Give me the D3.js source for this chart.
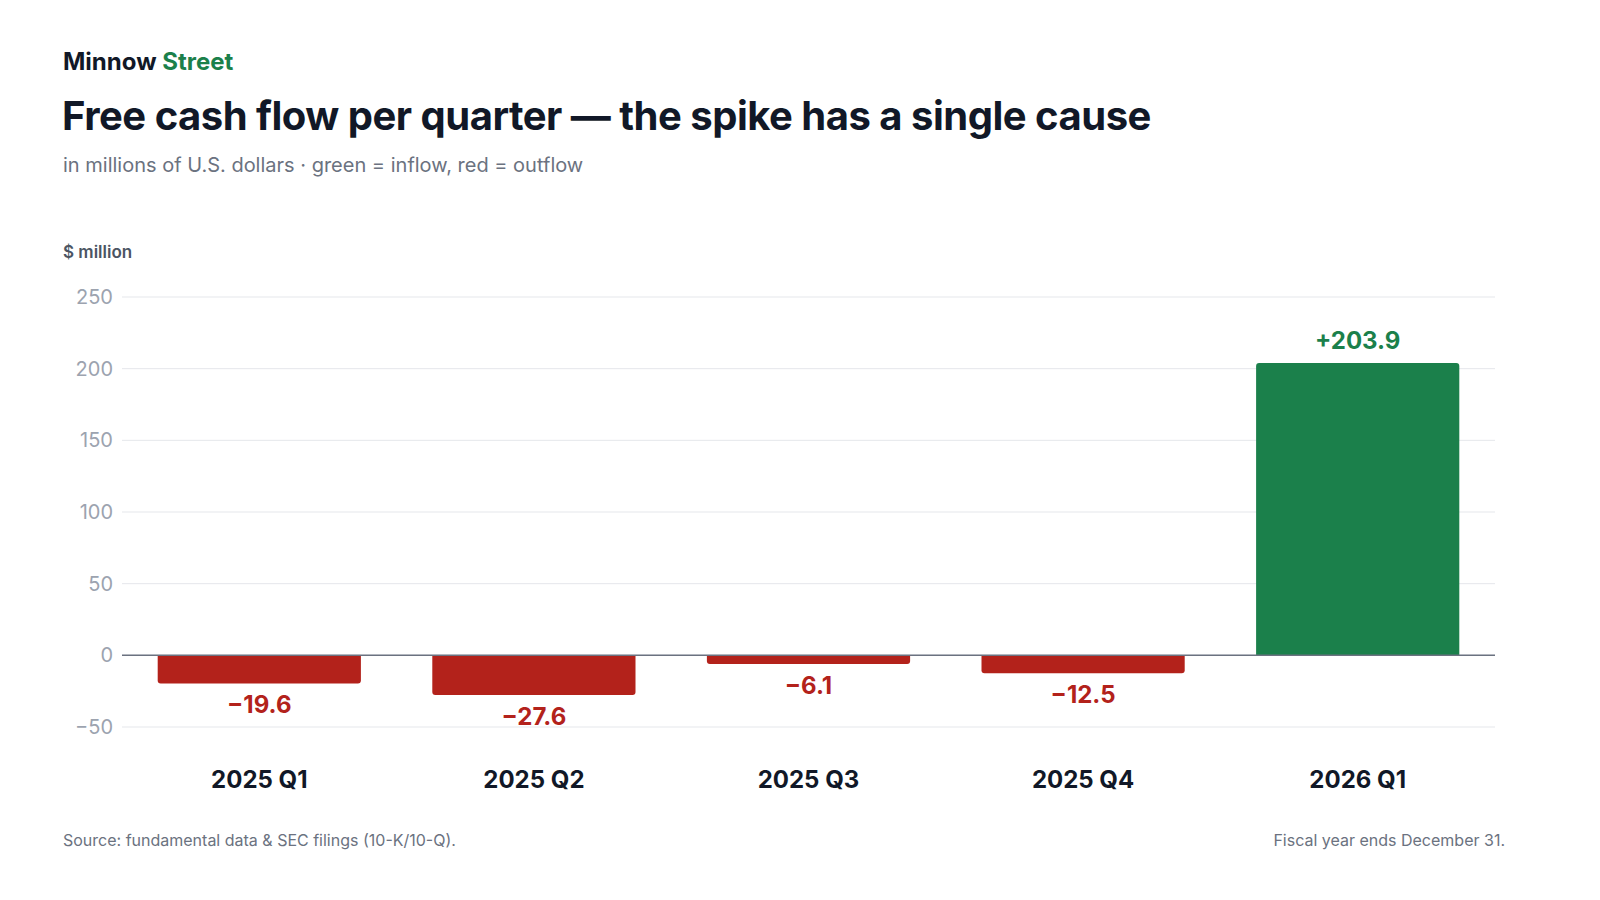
<!DOCTYPE html>
<html><head><meta charset="utf-8">
<script src="https://cdn.jsdelivr.net/npm/d3@7"></script>
<style>body{margin:0;background:#fff;font-family:Inter,"Noto Sans",sans-serif;}</style>
</head><body><svg id="c" width="1600" height="900"></svg>
<script>
var quarters = ["2025 Q1", "2025 Q2", "2025 Q3", "2025 Q4", "2026 Q1"];
var fcf = [-19.6, -27.6, -6.1, -12.5, 203.9];
var yTicks = [-50, 0, 50, 100, 150, 200, 250];

var svg = d3.select("#c");
var green = "#1b804b", red = "#b3221b", dark = "#111827", grey = "#6b7280";

var brand = svg.append("text").attr("x", 63).attr("y", 70).style("font-size", "24px").style("font-weight", 700).attr("fill", dark);
brand.append("tspan").text("Minnow ");
brand.append("tspan").attr("fill", green).text("Street");
svg.append("text").attr("x", 62).attr("y", 130).style("font-size", "40px").style("font-weight", 700)
    .style("letter-spacing", "-0.5px").attr("fill", dark).text("Free cash flow per quarter — the spike has a single cause");
svg.append("text").attr("x", 63).attr("y", 172).style("font-size", "20px").attr("fill", grey)
    .text("in millions of U.S. dollars · green = inflow, red = outflow");
svg.append("text").attr("x", 63).attr("y", 258).style("font-size", "17px").style("font-weight", 600).attr("fill", "#4b5563").text("$ million");

var x = d3.scaleBand().domain(quarters).range([122, 1495]).paddingInner(0.26).paddingOuter(0.13);
var y = d3.scaleLinear().domain([-50, 250]).range([727, 297]);

// gridlines + tick labels
svg.append("g").selectAll("line").data(yTicks).enter().append("line")
    .attr("x1", 122).attr("x2", 1495).attr("y1", function(d){ return y(d); }).attr("y2", function(d){ return y(d); })
    .attr("stroke", "#e5e7eb").attr("stroke-width", 1);
svg.append("g").selectAll("text").data(yTicks).enter().append("text")
    .attr("x", 113).attr("y", function(d){ return y(d) + 7; }).attr("text-anchor", "end")
    .style("font-size", "20px").attr("fill", "#9ca3af")
    .text(function(d){ return d < 0 ? "\u2212" + Math.abs(d) : d; });

// bars
var r = 3;
svg.append("g").selectAll("path").data(d3.zip(quarters, fcf)).enter().append("path")
    .attr("fill", function(d){ return d[1] >= 0 ? green : red; })
    .attr("d", function(d){
        var x0 = x(d[0]), w = x.bandwidth(), y0 = y(0), y1 = y(d[1]);
        var s = d[1] >= 0 ? 1 : -1;
        return "M" + x0 + "," + y0 + "L" + x0 + "," + (y1 + s * r) +
            "Q" + x0 + "," + y1 + " " + (x0 + r) + "," + y1 +
            "L" + (x0 + w - r) + "," + y1 +
            "Q" + (x0 + w) + "," + y1 + " " + (x0 + w) + "," + (y1 + s * r) +
            "L" + (x0 + w) + "," + y0 + "Z";
    });

// zero line
svg.append("line").attr("x1", 122).attr("x2", 1495).attr("y1", y(0)).attr("y2", y(0)).attr("stroke", "#6b7280").attr("stroke-width", 1.5);

// value labels
svg.append("g").selectAll("text").data(d3.zip(quarters, fcf)).enter().append("text")
    .attr("x", function(d){ return x(d[0]) + x.bandwidth() / 2; })
    .attr("y", function(d){ return d[1] >= 0 ? y(d[1]) - 14 : y(d[1]) + 30; })
    .attr("text-anchor", "middle").style("font-size", "24px").style("font-weight", 700)
    .attr("fill", function(d){ return d[1] >= 0 ? green : red; })
    .text(function(d){ return d[1] >= 0 ? "+" + d[1].toFixed(1) : "\u2212" + Math.abs(d[1]).toFixed(1); });

// category labels
svg.append("g").selectAll("text").data(quarters).enter().append("text")
    .attr("x", function(d){ return x(d) + x.bandwidth() / 2; }).attr("y", 788)
    .attr("text-anchor", "middle").style("font-size", "24px").style("font-weight", 700).attr("fill", dark).text(function(d){ return d; });

svg.append("text").attr("x", 63).attr("y", 846).style("font-size", "16px").attr("fill", grey)
    .text("Source: fundamental data & SEC filings (10-K/10-Q).");
svg.append("text").attr("x", 1505).attr("y", 846).attr("text-anchor", "end").style("font-size", "16px").attr("fill", grey)
    .text("Fiscal year ends December 31.");
</script></body></html>
